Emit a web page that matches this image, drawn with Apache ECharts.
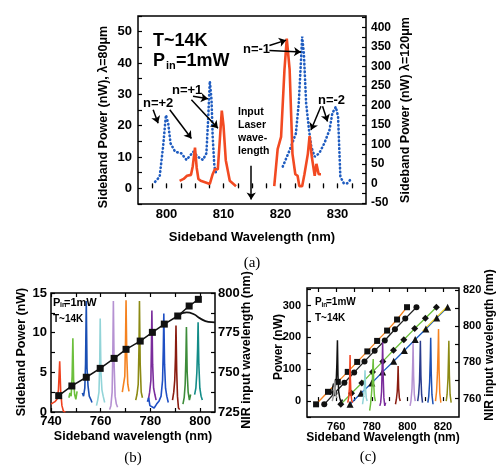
<!DOCTYPE html>
<html><head><meta charset="utf-8">
<script src="https://cdn.jsdelivr.net/npm/echarts@6/dist/echarts.min.js"></script>
<style>html,body{margin:0;padding:0;background:#fff}#c{width:497px;height:472px}</style>
</head><body><div id="c"></div>
<script>
// ---------- Panel (a) data ----------
const aRed1 = [[802.3,2.4],[803.0,3.0],[803.6,4.0],[804.3,4.3],[804.6,7.0],[805.0,13.0],[805.3,6.5],[805.6,3.0],[806.0,2.4],[807.0,1.8],[807.6,1.4],[808.1,4.5],[808.5,6.2],[809.0,6.0],[809.3,14.0],[809.7,24.8],[810.0,20.0],[810.4,9.0],[811.1,2.4],[812.2,0.7]];
const aRed2 = [[818.9,0.7],[819.5,12.5],[820.1,16.4],[820.7,38.0],[821.1,47.8],[821.6,38.0],[822.1,11.0],[822.6,4.5],[823.0,4.0],[823.3,0.7],[823.8,0.7],[824.2,4.5],[824.8,11.0],[825.1,16.7],[825.5,10.0],[826.0,4.0],[826.3,7.8],[826.7,4.5],[827.1,4.5]];
const aBlue1 = [[798.0,4],[798.8,17],[799.4,94],[799.9,175],[800.3,154],[800.7,103],[801.5,81],[802.6,77],[803.5,60],[804.7,81],[805.5,68],[806.4,60],[807.0,77],[807.3,162],[807.6,262],[807.9,214],[808.1,120],[808.4,43],[808.7,26]];
const aBlue2 = [[820.4,43],[821.6,85],[822.7,128],[823.2,205],[823.6,316],[823.8,376],[824.1,333],[824.5,205],[825.0,137],[825.4,94],[826.0,68],[826.8,77],[827.7,103],[828.6,137],[829.1,180],[829.7,196],[830.1,171],[830.3,94],[830.5,17],[831.1,0],[831.7,0],[832.3,10]];
const aArrows = [[818.06,45.6,820.98,47.3],[818.06,44.0,823.6,43.5],[804.65,29.4,807.27,28.6],[804.37,28.3,809.02,19.2],[797.66,25.1,798.53,20.8],[800.58,25.1,804.37,15.9],[827.1,26.2,825.35,18.6],[827.38,26.2,828.25,21.3],[814.86,7.2,814.86,-3.6]];
const aXLabels = [800,810,820,830];
const aXTicks = [797.5,800,802.5,805,807.5,810,812.5,815,817.5,820,822.5,825,827.5,830,832.5];
const aYLabels = [0,10,20,30,40,50];
const aYTicks = [-5,0,5,10,15,20,25,30,35,40,45,50,55];
const aY2Labels = [-50,0,50,100,150,200,250,300,350,400];
const aY2Ticks = [-50,-25,0,25,50,75,100,125,150,175,200,225,250,275,300,325,350,375,400,425];

// ---------- Panel (b) data ----------
const bP1 = [[740,1.0],[740.8,0.8],[741.6,1.3],[742.4,1.6],[743.0,2.8],[743.5,6.4],[743.9,2.6],[744.4,0.8],[745.0,0.1],[745.8,0.0]];
const bP2 = [[747.2,1.8],[747.6,2.4],[748.1,2.0],[748.5,4.5],[748.8,9.3],[749.1,4.0],[749.5,2.2],[750.0,1.6],[750.5,2.6]];
const bP3 = [[752.6,2.4],[753.1,2.0],[753.6,3.0],[753.9,6.0],[754.2,14.0],[754.5,5.5],[754.9,3.3],[755.4,2.0],[756.0,1.6],[756.5,1.2]];
const bP4 = [[758.3,0.8],[758.8,1.5],[759.3,2.5],[759.6,6.0],[759.8,11.8],[760.1,5.0],[760.5,2.8],[761.0,2.0],[761.6,1.2]];
const bP5 = [[763.6,0.3],[764.1,0.8],[764.6,2.5],[764.9,8.0],[765.1,14.0],[765.4,6.0],[765.8,2.0],[766.3,1.0],[766.8,0.6]];
const bP6 = [[768.7,2.5],[769.2,3.5],[769.7,4.5],[770.0,9.0],[770.2,14.1],[770.5,7.0],[770.9,3.5],[771.4,2.6]];
const bP7 = [[774.1,1.5],[774.6,2.2],[775.1,3.5],[775.4,8.0],[775.6,14.0],[775.9,6.0],[776.3,2.5],[776.8,1.8]];
const bP8 = [[779.2,1.6],[779.7,2.5],[780.2,4.0],[780.4,8.0],[780.6,12.8],[780.9,6.0],[781.3,3.0],[781.8,2.2],[782.3,1.5]];
const bP9 = [[778.8,1.3],[779.3,1.8],[779.8,0.8],[781.5,0.5],[782.5,1.0],[783.5,1.4],[784.3,2.0],[784.9,4.0],[785.2,8.0],[785.4,12.4],[785.7,6.0],[786.1,3.0],[786.6,2.0],[787.2,1.2]];
const bP10 = [[788.9,1.5],[789.4,2.5],[789.8,4.0],[790.1,7.0],[790.3,10.9],[790.6,5.0],[790.9,2.0],[791.3,0.5],[791.8,0.3]];
const bP11 = [[793.1,1.0],[793.6,1.8],[794.0,3.5],[794.3,7.0],[794.5,10.7],[794.8,5.0],[795.2,2.5],[795.7,1.5],[796.2,2.2]];
const bP12 = [[797.8,2.2],[798.3,3.0],[798.7,5.0],[799.0,8.0],[799.2,11.3],[799.5,6.0],[799.9,3.0],[800.4,2.0],[800.9,1.5]];
const bPeakColors = ['#f0401e','#6cbf3c','#1a4fb4','#92d4d8','#b591d2','#f5821f','#8c8a14','#7a2c9c','#1f4fc4','#8a1c10','#3d8c3a','#138c88'];
const bNir = [[743.1,735.3],[748.4,741.4],[754.2,746.9],[759.8,752.5],[765.4,758.8],[770.2,764.5],[775.9,769.7],[780.8,775.2],[785.6,780.4],[791.0,785.5],[795.6,791.8],[799.3,796.0]];
const bCurve = [[791.0,785.5],[794.6,787.8],[797.5,786.6],[800.0,784.0],[803.3,781.8],[806.0,781.5]];
const bXLabels = [740,760,780,800];
const bXTicks = [740,750,760,770,780,790,800];
const bYLabels = [0,5,10,15];
const bYTicks = [0,2.5,5,7.5,10,12.5,15];
const bY2Labels = [725,750,775,800];
const bY2Ticks = [725,737.5,750,762.5,775,787.5,800];

// ---------- Panel (c) data ----------
const cP1 = [[756.5,20],[757.5,30],[758.5,55],[759.3,40],[760.0,60],[760.4,120],[760.7,191],[761.0,80],[761.4,30],[762.0,10],[762.8,-5],[763.5,5]];
const cP1b = [[757.8,0],[758.6,20],[759.2,65],[759.7,20],[760.5,10]];
const cP2 = [[766.5,-5],[767.0,10],[767.4,40],[767.6,80],[767.8,145],[768.0,70],[768.3,20],[768.8,0],[769.3,-5]];
const cP3 = [[774.8,-10],[775.3,10],[775.8,40],[776.2,97],[776.5,40],[776.9,10],[777.4,0]];
const cP4 = [[778.8,-30],[779.3,-10],[779.8,20],[780.3,60],[780.6,110],[780.8,132],[781.1,50],[781.5,15],[782.0,0]];
const cP5 = [[784.5,-15],[785.0,-5],[785.5,30],[785.8,100],[786.1,185],[786.4,80],[786.8,10],[787.3,-15],[787.8,-5]];
const cP6 = [[793.3,-10],[793.8,5],[794.3,30],[794.6,70],[794.8,110],[795.1,40],[795.5,10],[796.0,0]];
const cP7 = [[801.5,-15],[802.0,0],[802.6,40],[803.0,120],[803.2,182],[803.5,80],[803.9,20],[804.4,0]];
const cP8 = [[805.8,0],[806.3,20],[806.8,60],[807.1,130],[807.3,189],[807.6,80],[808.0,20],[808.5,-5]];
const cP9 = [[811.5,-5],[812.0,15],[812.5,60],[812.9,140],[813.1,199],[813.4,90],[813.8,20],[814.4,-10]];
const cP10 = [[815.8,0],[816.4,30],[816.9,90],[817.3,170],[817.5,226],[817.8,100],[818.2,25],[818.8,-5]];
const cP11 = [[821.8,0],[822.3,20],[822.8,70],[823.1,140],[823.3,189],[823.6,80],[824.0,20],[824.6,-5]];
const cPeakColors = ['#111111','#9a9a9a','#f0401e','#92d4d8','#6cbf3c','#7a2c9c','#8a1c10','#b591d2','#2a3c8c','#1a4fb4','#f5821f','#8c8a14'];
const cSq = [[748.7,756.8],[755.4,763.7],[760.9,769.2],[766.5,774.7],[771.8,780.2],[777.5,786.0],[783.0,791.8],[788.6,797.5],[794.2,803.6],[799.8,810.4]];
const cCi = [[753.3,756.8],[759.0,762.9],[764.6,768.7],[770.1,774.4],[775.9,780.5],[781.6,786.3],[787.3,792.0],[793.0,798.2],[798.8,804.1],[805.1,810.4]];
const cDi = [[762.6,756.8],[768.6,762.9],[774.4,768.6],[780.4,774.7],[786.2,780.5],[792.2,786.6],[798.0,792.4],[804.1,798.6],[810.1,804.3],[816.3,810.4]];
const cTr = [[767.8,756.8],[773.9,762.9],[780.0,768.6],[786.1,774.7],[792.3,780.6],[798.3,786.5],[804.4,792.6],[810.4,798.4],[816.5,804.5],[822.6,810.4]];
const cYellow = [[808.6,797.3],[822.6,810.9]];
const cXLabels = [760,780,800,820];
const cXTicks = [750,760,770,780,790,800,810,820];
const cYLabels = [0,100,200,300];
const cYTicks = [-50,0,50,100,150,200,250,300,350];
const cY2Labels = [760,780,800,820];
const cY2Ticks = [760,770,780,790,800,810,820];

// ---------- helpers ----------
const F = '"Liberation Sans", Arial, sans-serif';
function axis(gridIndex, position, min, max, labels, ticks, margin, fontSize) {
  return {
    type: 'value', gridIndex, position, min, max, scale: true,
    axisLine: { show: false },
    splitLine: { show: false },
    axisTick: { show: true, inside: true, length: 4, customValues: ticks, lineStyle: { color: '#000', width: 1.2 } },
    axisLabel: { show: !!labels, customValues: labels || undefined, margin: margin, color: '#000',
      fontFamily: F, fontWeight: 'bold', fontSize: fontSize || 12 }
  };
}
function line(data, color, xi, yi, width, extra) {
  return Object.assign({
    type: 'line', data, xAxisIndex: xi, yAxisIndex: yi, showSymbol: false, animation: false,
    lineStyle: { color, width: width || 1.5 }, itemStyle: { color }, z: 2
  }, extra || {});
}
function txt(x, y, text, font, opts) {
  const o = opts || {};
  return { type: 'text', x, y, rotation: o.rot || 0, z: 100,
    style: { text, font, fill: '#000', textAlign: o.align || 'left', textVerticalAlign: o.va || 'top',
      align: o.align || 'left', verticalAlign: o.va || 'top' } };
}

const grids = [
  { left: 138, top: 16, width: 228, height: 188 },
  { left: 51, top: 293, width: 164, height: 119 },
  { left: 307, top: 288, width: 152, height: 129 }
].map(g => Object.assign(g, { show: true, borderColor: '#000', borderWidth: 1.5, backgroundColor: 'transparent', containLabel: false }));

const xAxes = [
  axis(0, 'bottom', 795, 835, aXLabels, aXTicks, 4, 13),
  axis(0, 'top', 795, 835, null, aXTicks),
  axis(1, 'bottom', 740, 806, bXLabels, bXTicks, 3, 13),
  axis(1, 'top', 740, 806, null, bXTicks),
  axis(2, 'bottom', 743.6, 829, cXLabels, cXTicks, 4, 11),
  axis(2, 'top', 743.6, 829, null, cXTicks)
];
const yAxes = [
  axis(0, 'left', -5, 55, aYLabels, aYTicks, 6, 13),
  axis(0, 'right', -53, 429, aY2Labels, aY2Ticks, 5, 12),
  axis(1, 'left', 0, 15, bYLabels, bYTicks, 4, 13),
  axis(1, 'right', 725, 800, bY2Labels, bY2Ticks, 3, 13),
  axis(2, 'left', -50, 355, cYLabels, cYTicks, 6, 11),
  axis(2, 'right', 749.8, 821, cY2Labels, cY2Ticks, 4, 11)
];

const series = [];
// (a)
const red = '#f24a22', blue = '#1f5cc0';
series.push(line(aBlue1, blue, 0, 1, 2.6, { lineStyle: { color: blue, width: 2.6, type: [0.5, 3.4], cap: 'round' } }));
series.push(line(aBlue2, blue, 0, 1, 2.6, { lineStyle: { color: blue, width: 2.6, type: [0.5, 3.4], cap: 'round' } }));
series.push(line(aRed1, red, 0, 0, 2.6, {
  markLine: {
    silent: true, animation: false, symbol: ['none', 'arrow'], symbolSize: 7, precision: 3,
    lineStyle: { color: '#000', width: 1.5, type: 'solid' }, label: { show: false },
    data: aArrows.map(a => [{ coord: [a[0], a[1]] }, { coord: [a[2], a[3]] }])
  }
}));
series.push(line(aRed2, red, 0, 0, 2.6));
// (b)
[bP1,bP2,bP3,bP4,bP5,bP6,bP7,bP8,bP9,bP10,bP11,bP12].forEach((d, i) => series.push(line(d, bPeakColors[i], 2, 2, 1.6)));
series.push(line(bNir, '#111', 2, 3, 1.5, { showSymbol: true, symbol: 'rect', symbolSize: 7, z: 5 }));
series.push(line(bCurve, '#111', 2, 3, 1.8, { smooth: true, z: 5 }));
// (c)
series.push(line(cSq, '#f5821f', 4, 5, 1.3, { showSymbol: true, symbol: 'rect', symbolSize: 6, itemStyle: { color: '#111' }, z: 3 }));
series.push(line(cCi, '#222', 4, 5, 1.3, { showSymbol: true, symbol: 'circle', symbolSize: 6, itemStyle: { color: '#111' }, z: 3 }));
series.push(line(cDi, '#6cbf3c', 4, 5, 1.3, { showSymbol: true, symbol: 'diamond', symbolSize: 7, itemStyle: { color: '#111' }, z: 3 }));
series.push(line(cTr, '#1a5cc0', 4, 5, 1.3, { showSymbol: true, symbol: 'triangle', symbolSize: 7, itemStyle: { color: '#111' }, z: 3 }));
series.push(line(cYellow, '#f0d020', 4, 5, 1.2, { z: 3 }));
[cP1,cP1b,cP2,cP3,cP4,cP5,cP6,cP7,cP8,cP9,cP10,cP11].forEach((d, i) => series.push(line(d, cPeakColors[i], 4, 4, 1.5, { z: 4 })));

const B = (s) => 'bold ' + s + 'px ' + F;
const SERIF = '15px "Liberation Serif", "DejaVu Serif", serif';
const graphic = [
  // (a)
  txt(153, 32, 'T~14K', B(18)),
  txt(153, 52, 'P', B(18)),
  txt(166, 60, 'in', B(11)),
  txt(176, 52, '=1mW', B(18)),
  txt(243, 43, 'n=-1', B(13)),
  txt(172, 84, 'n=+1', B(13)),
  txt(143, 97, 'n=+2', B(13)),
  txt(318, 94, 'n=-2', B(13)),
  txt(238, 112, 'Input', B(10.5), { va: 'middle' }),
  txt(238, 125, 'Laser', B(10.5), { va: 'middle' }),
  txt(238, 138, 'wave-', B(10.5), { va: 'middle' }),
  txt(238, 151, 'length', B(10.5), { va: 'middle' }),
  txt(252, 237, 'Sideband Wavelength (nm)', B(13), { align: 'center', va: 'middle' }),
  txt(104, 117, 'Sideband Power (nW), λ=80μm', B(12.5), { align: 'center', va: 'middle', rot: Math.PI / 2 }),
  txt(406, 110, 'Sideband Power (nW) λ=120μm', B(12.5), { align: 'center', va: 'middle', rot: Math.PI / 2 }),
  txt(252, 263, '(a)', SERIF, { align: 'center', va: 'middle' }),
  // (b)
  txt(53, 297, 'P', B(11)),
  txt(60, 302, 'in', B(7)),
  txt(64, 297, '=1mW', B(11)),
  txt(53, 314, 'T~14K', B(10)),
  txt(133, 437, 'Sideband wavelength (nm)', B(12.5), { align: 'center', va: 'middle' }),
  txt(22, 352, 'Sideband Power (nW)', B(12.5), { align: 'center', va: 'middle', rot: Math.PI / 2 }),
  txt(247, 350, 'NIR input wavelength (nm)', B(12.5), { align: 'center', va: 'middle', rot: Math.PI / 2 }),
  txt(133, 458, '(b)', SERIF, { align: 'center', va: 'middle' }),
  // (c)
  txt(315, 297, 'P', B(10)),
  txt(321.5, 302, 'in', B(6.5)),
  txt(326, 297, '=1mW', B(10)),
  txt(315, 313, 'T~14K', B(10)),
  txt(383, 438, 'Sideband Wavelength (nm)', B(12), { align: 'center', va: 'middle' }),
  txt(279, 347, 'Power (nW)', B(12), { align: 'center', va: 'middle', rot: Math.PI / 2 }),
  txt(490, 345, 'NIR input wavelength (nm)', B(12), { align: 'center', va: 'middle', rot: Math.PI / 2 }),
  txt(368, 457, '(c)', SERIF, { align: 'center', va: 'middle' })
];

const chart = echarts.init(document.getElementById('c'), null, { renderer: 'canvas' });
chart.setOption({
  animation: false, backgroundColor: '#fff',
  grid: grids, xAxis: xAxes, yAxis: yAxes, series, graphic
});
</script></body></html>
